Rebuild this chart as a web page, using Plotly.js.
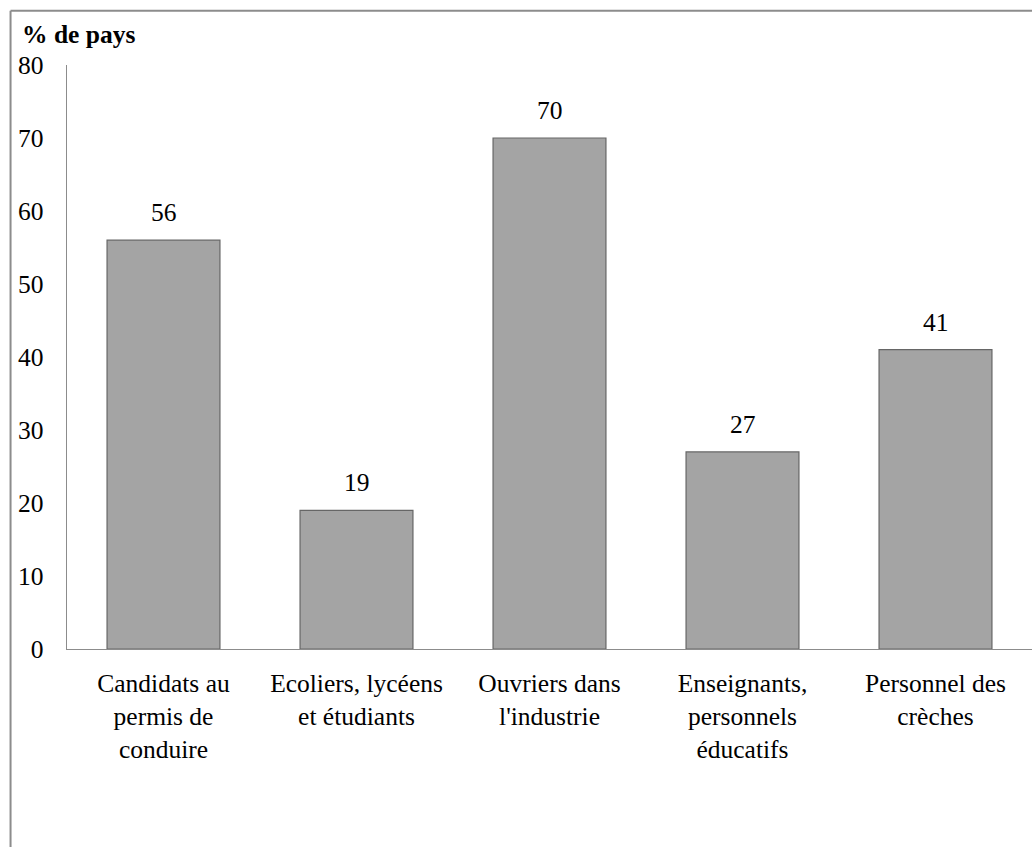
<!DOCTYPE html>
<html>
<head>
<meta charset="utf-8">
<script src="https://cdn.plot.ly/plotly-3.0.1.min.js"></script>
<style>
html,body{margin:0;padding:0;background:#fff;}
#chart{width:1032px;height:847px;}
</style>
</head>
<body>
<div id="chart"></div>
<script>
const categories = [
  "Candidats au<br>permis de<br>conduire",
  "Ecoliers, lycéens<br>et étudiants",
  "Ouvriers dans<br>l'industrie",
  "Enseignants,<br>personnels<br>éducatifs",
  "Personnel des<br>crèches"
];
const values = [56, 19, 70, 27, 41];
const yTicks = [0, 10, 20, 30, 40, 50, 60, 70, 80];
const yTitle = "% de pays";

const font = {family: "Liberation Serif, Times New Roman, serif", size: 25.5, color: "#000"};

const trace = {
  type: "bar",
  x: categories,
  y: values,
  width: 0.585,
  marker: {
    color: "#a4a4a4",
    line: {color: "#666666", width: 1.2}
  },
  hoverinfo: "none"
};

const labelAnnotations = categories.map((c, i) => ({
  x: c, y: values[i], xref: "x", yref: "y",
  text: String(values[i]),
  showarrow: false,
  yanchor: "bottom",
  yshift: 11,
  font: font
}));

const layout = {
  width: 1032,
  height: 847,
  margin: {l: 67, r: 0, t: 65, b: 198},
  paper_bgcolor: "#fff",
  plot_bgcolor: "#fff",
  font: font,
  showlegend: false,
  bargap: 0.415,
  xaxis: {
    showline: true,
    linecolor: "#8c8c8c",
    linewidth: 1.3,
    ticks: "",
    showgrid: false,
    zeroline: false,
    tickfont: font,
    ticklabelstandoff: 11,
    fixedrange: true
  },
  yaxis: {
    range: [0, 80],
    tickvals: yTicks,
    ticktext: yTicks.map(String),
    showline: true,
    linecolor: "#8c8c8c",
    linewidth: 1.3,
    ticks: "",
    showgrid: false,
    zeroline: false,
    tickfont: font,
    ticklabelstandoff: 17,
    fixedrange: true
  },
  annotations: [{
    text: "<b>" + yTitle + "</b>",
    xref: "paper", yref: "paper",
    x: -0.049, y: 1.053,
    xanchor: "left", yanchor: "middle",
    showarrow: false,
    font: font
  }].concat(labelAnnotations),
  shapes: [
    {type: "line", xref: "paper", yref: "paper", x0: -0.0585, x1: -0.0585, y0: 1.093, y1: -0.36,
     line: {color: "#8c8c8c", width: 2}},
    {type: "line", xref: "paper", yref: "paper", x0: -0.0585, x1: 1.01, y0: 1.093, y1: 1.093,
     line: {color: "#8c8c8c", width: 2}}
  ]
};

Plotly.newPlot("chart", [trace], layout, {displayModeBar: false, staticPlot: true});
</script>
</body>
</html>
